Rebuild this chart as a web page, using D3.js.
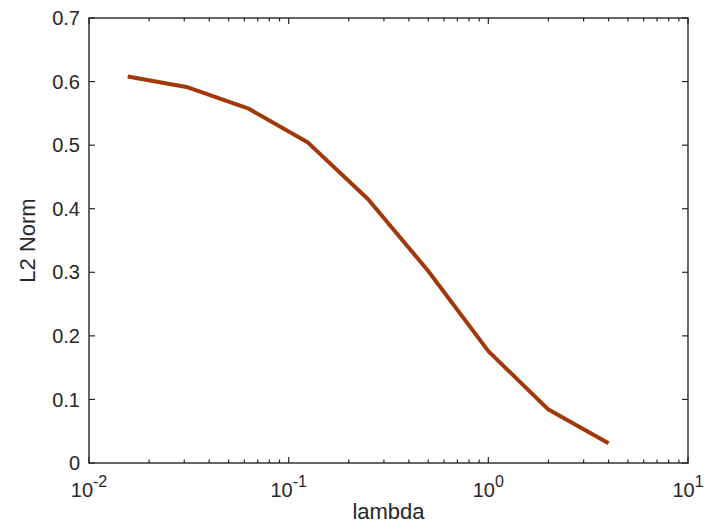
<!doctype html>
<html lang="en">
<head>
  <meta charset="utf-8">
  <title>L2 Norm vs lambda</title>
  <style>
    body { margin: 0; background: #fff; }
    svg text { font-family: "Liberation Sans", Arial, Helvetica, sans-serif; fill: #262626; }
    .frame { fill: none; stroke: #262626; stroke-width: 1.4; }
    .tick line { stroke: #262626; stroke-width: 1.2; }
    .curve { fill: none; stroke: #a0380a; stroke-width: 4; stroke-linejoin: round; }
  </style>
</head>
<body>
  <div id="chart"></div>
  <script src="https://d3js.org/d3.v7.min.js"></script>
  <script>
// data
const lambdas = [0.015625, 0.03125, 0.0625, 0.125, 0.25, 0.5, 1, 2, 4];
const norms = [0.608, 0.591, 0.558, 0.504, 0.415, 0.302, 0.176, 0.084, 0.031];
const yTicks = [0, 0.1, 0.2, 0.3, 0.4, 0.5, 0.6, 0.7];
const xMajor = [-2, -1, 0, 1];  // powers of ten

const width = 706, height = 525;
const margin = { top: 18, right: 18, bottom: 62, left: 89 };
const innerW = width - margin.left - margin.right;
const innerH = height - margin.top - margin.bottom;

const svg = d3.select('#chart')
  .append('svg')
  .attr('width', width)
  .attr('height', height);

const g = svg.append('g')
  .attr('transform', `translate(${margin.left},${margin.top})`);

const x = d3.scaleLog().domain([1e-2, 1e1]).range([0, innerW]);
const y = d3.scaleLinear().domain([0, 0.7]).range([innerH, 0]);

// minor ticks for the log axis
const xMinor = [];
xMajor.slice(0, -1).forEach(p => {
  for (let k = 2; k <= 9; k++) xMinor.push(k * Math.pow(10, p));
});

// ticks inside the box, on all four sides
const ticks = g.append('g').attr('class', 'tick');
const majorLen = 6, minorLen = 3.5;

ticks.selectAll('.xb-major')
  .data(xMajor)
  .join('line')
  .attr('x1', d => x(Math.pow(10, d))).attr('x2', d => x(Math.pow(10, d)))
  .attr('y1', innerH).attr('y2', innerH - majorLen);
ticks.selectAll('.xt-major')
  .data(xMajor)
  .join('line')
  .attr('x1', d => x(Math.pow(10, d))).attr('x2', d => x(Math.pow(10, d)))
  .attr('y1', 0).attr('y2', majorLen);
ticks.selectAll('.xb-minor')
  .data(xMinor)
  .join('line')
  .attr('x1', d => x(d)).attr('x2', d => x(d))
  .attr('y1', innerH).attr('y2', innerH - minorLen);
ticks.selectAll('.xt-minor')
  .data(xMinor)
  .join('line')
  .attr('x1', d => x(d)).attr('x2', d => x(d))
  .attr('y1', 0).attr('y2', minorLen);
ticks.selectAll('.yl')
  .data(yTicks)
  .join('line')
  .attr('x1', 0).attr('x2', majorLen)
  .attr('y1', d => y(d)).attr('y2', d => y(d));
ticks.selectAll('.yr')
  .data(yTicks)
  .join('line')
  .attr('x1', innerW).attr('x2', innerW - majorLen)
  .attr('y1', d => y(d)).attr('y2', d => y(d));

// the curve
const line = d3.line()
  .x(d => x(d[0]))
  .y(d => y(d[1]));

g.append('path')
  .datum(d3.zip(lambdas, norms))
  .attr('class', 'curve')
  .attr('d', line);

g.append('rect')
  .attr('class', 'frame')
  .attr('width', innerW)
  .attr('height', innerH);

// y tick labels
g.append('g')
  .selectAll('text')
  .data(yTicks)
  .join('text')
  .attr('x', -9)
  .attr('y', d => y(d))
  .attr('dy', '0.36em')
  .attr('text-anchor', 'end')
  .style('font-size', '20px')
  .text(d => d === 0 ? '0' : d3.format('.1f')(d));

// x tick labels as 10 with superscript
const xl = g.append('g')
  .selectAll('text')
  .data(xMajor)
  .join('text')
  .attr('x', d => x(Math.pow(10, d)))
  .attr('y', innerH + 34)
  .attr('text-anchor', 'middle')
  .style('font-size', '20px');
xl.append('tspan').text('10');
xl.append('tspan')
  .attr('dy', -10)
  .style('font-size', '16px')
  .text(d => d < 0 ? '-' + (-d) : d);

// axis labels
g.append('text')
  .attr('x', innerW / 2)
  .attr('y', innerH + 56)
  .attr('text-anchor', 'middle')
  .style('font-size', '22px')
  .text('lambda');

g.append('text')
  .attr('transform', `translate(-54,${innerH / 2}) rotate(-90)`)
  .attr('text-anchor', 'middle')
  .style('font-size', '22px')
  .text('L2 Norm');
  </script>
</body>
</html>
